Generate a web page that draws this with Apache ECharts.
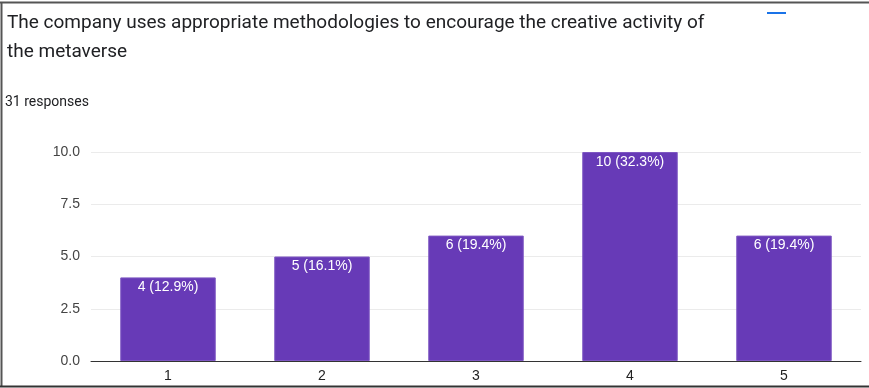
<!DOCTYPE html>
<html>
<head>
<meta charset="utf-8">
<script src="https://cdn.jsdelivr.net/npm/echarts@6/dist/echarts.min.js"></script>
<style>html,body{margin:0;padding:0;background:#fff;}#c{width:869px;height:388px;}</style>
</head>
<body>
<div id="c"></div>
<script>
const titleText = "The company uses appropriate methodologies to encourage the creative activity of\nthe metaverse";
const subText = "31 responses";
const categories = ["1", "2", "3", "4", "5"];
const counts = [4, 5, 6, 10, 6];
const labels = ["4 (12.9%)", "5 (16.1%)", "6 (19.4%)", "10 (32.3%)", "6 (19.4%)"];
const yTicks = [0, 2.5, 5, 7.5, 10];

const chart = echarts.init(document.getElementById('c'), null, {renderer: 'canvas'});
chart.setOption({
  animation: false,
  backgroundColor: '#fff',
  title: [
    {text: titleText, left: 7, top: 9, padding: 0,
     textStyle: {fontFamily: 'Roboto', fontSize: 19, fontWeight: 'normal', color: '#202124', lineHeight: 29}},
    {text: subText, left: 5, top: 95, padding: 0,
     textStyle: {fontFamily: 'Roboto', fontSize: 14, fontWeight: 'normal', color: '#202124'}}
  ],
  grid: {left: 91, right: 8, top: 152, bottom: 27, containLabel: false},
  xAxis: {
    type: 'category', data: categories,
    axisLine: {lineStyle: {color: '#333', width: 1}},
    axisTick: {show: false},
    axisLabel: {fontFamily: 'Arial', fontSize: 14, color: '#222', margin: 8}
  },
  yAxis: {
    type: 'value', min: 0, max: 10, interval: 2.5,
    axisLine: {show: false}, axisTick: {show: false},
    splitLine: {lineStyle: {color: '#ebebeb'}},
    axisLabel: {fontFamily: 'Arial', fontSize: 14, color: '#444', margin: 11,
      formatter: v => yTicks.includes(v) ? v.toFixed(1) : ''}
  },
  series: [{
    type: 'bar', data: counts, barWidth: '62%',
    itemStyle: {color: '#673ab7', borderColor: '#7e57c2', borderWidth: 1},
    label: {show: true, position: 'insideTop', distance: 3, color: '#fff',
      fontFamily: 'Arial', fontSize: 14,
      formatter: p => labels[p.dataIndex]}
  }],
  graphic: [
    {type: 'rect', shape: {x: 767, y: 12, width: 19, height: 2}, style: {fill: '#1a73e8'}},
    {type: 'line', shape: {x1: 0, y1: 2.5, x2: 869, y2: 2.5}, style: {stroke: '#555', lineWidth: 2}},
    {type: 'line', shape: {x1: 1.5, y1: 2, x2: 1.5, y2: 387}, style: {stroke: '#555', lineWidth: 2}},
    {type: 'line', shape: {x1: 0, y1: 386.5, x2: 869, y2: 386.5}, style: {stroke: '#333', lineWidth: 2}}
  ]
});
</script>
</body>
</html>
